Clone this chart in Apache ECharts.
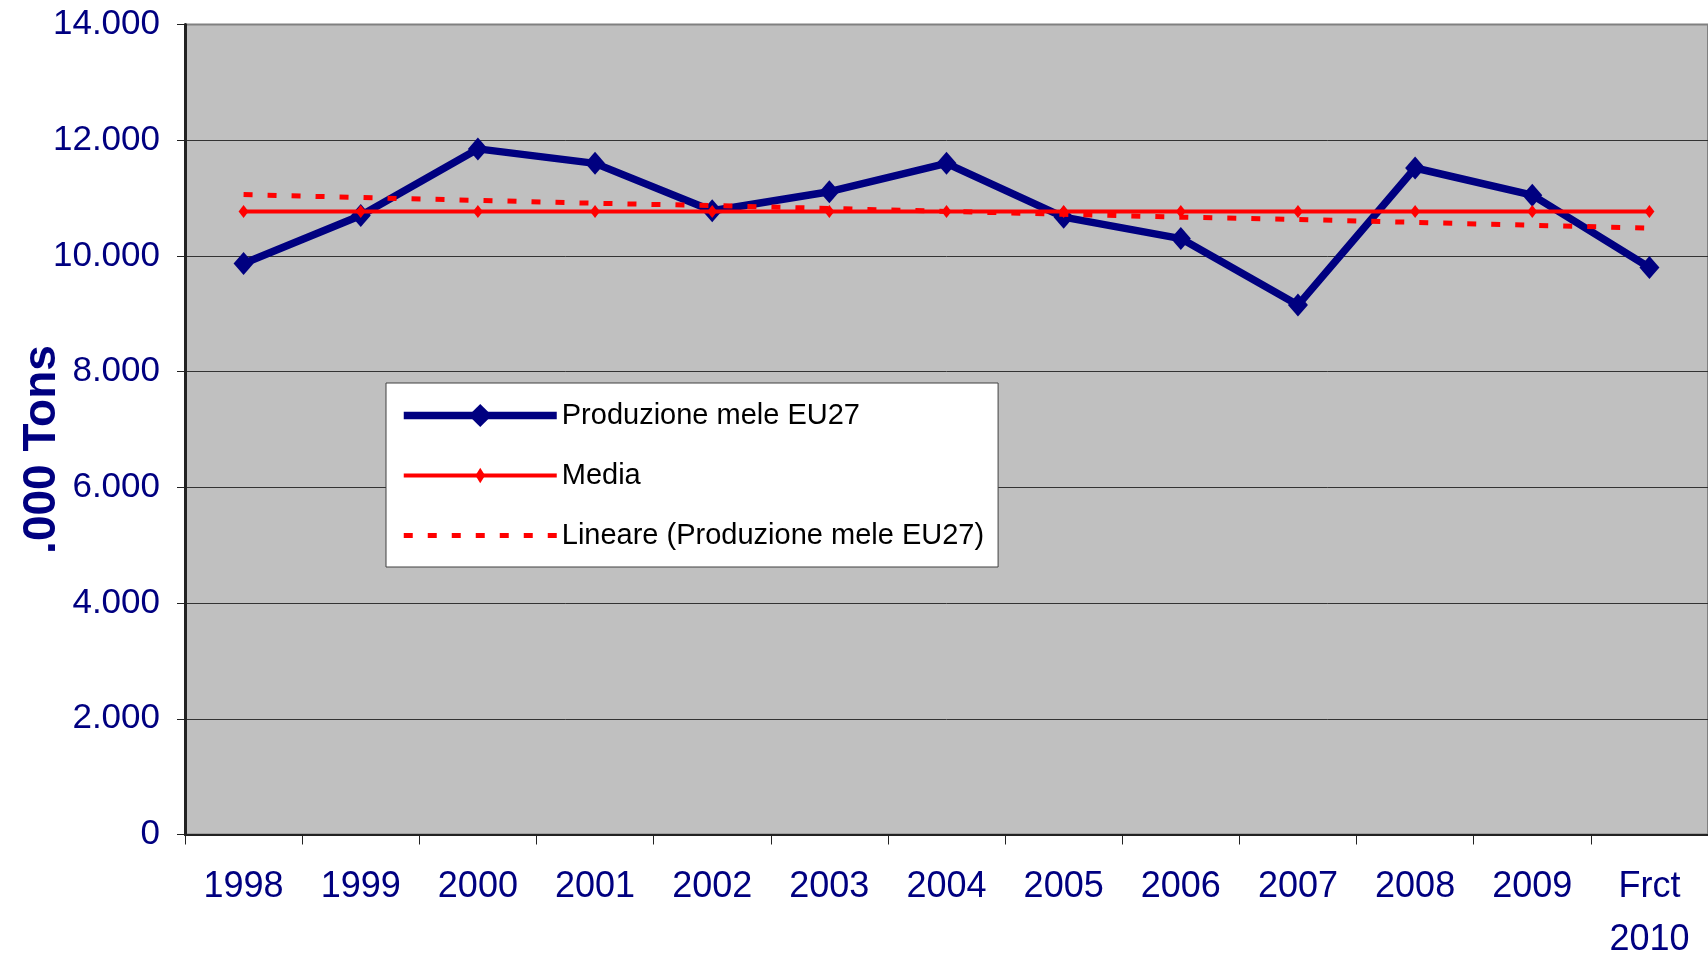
<!DOCTYPE html>
<html>
<head>
<meta charset="utf-8">
<script src="https://cdn.jsdelivr.net/npm/echarts@6/dist/echarts.min.js"></script>
<style>
  html, body { margin: 0; padding: 0; background: #fff; }
  #chart { width: 1708px; height: 956px; }
</style>
</head>
<body>
<div id="chart"></div>
<script>
// anni (ultima categoria = previsione)
const years = ['1998', '1999', '2000', '2001', '2002', '2003', '2004', '2005', '2006', '2007', '2008', '2009', 'Frct\n2010']
// produzione mele EU27, migliaia di tonnellate
const produzione = [9870, 10700, 11850, 11600, 10780, 11110, 11600, 10670, 10300, 9150, 11520, 11050, 9800]
// media
const media = [10770, 10770, 10770, 10770, 10770, 10770, 10770, 10770, 10770, 10770, 10770, 10770, 10770]
// tendenza lineare
const lineare = [11060, 11010, 10960, 10910, 10870, 10820, 10770, 10720, 10670, 10630, 10580, 10530, 10480]
const yTicks = [0, 2000, 4000, 6000, 8000, 10000, 12000, 14000]

const NAVY = '#000080'
const FONT = "'Liberation Sans', Arial, sans-serif"
// diamond with phantom corners, so the legend icon stays small
const smallDiamond = 'path://M0,0M24,24M12,4L17,12L12,20L7,12Z'

const chart = echarts.init(document.getElementById('chart'))

const option = {
  animation: false,
  backgroundColor: '#fff',
  grid: {
    left: 185,
    right: 0,
    top: 24.5,
    bottom: 121.5,
    outerBoundsMode: 'none',
    containLabel: false,
    show: true,
    backgroundColor: '#C0C0C0',
    borderColor: '#808080',
    borderWidth: 2
  },
  legend: {
    orient: 'vertical',
    left: 386,
    top: 383,
    padding: [18, 14, 17, 14],
    itemWidth: 153,
    itemHeight: 29,
    itemGap: 31,
    backgroundColor: '#fff',
    borderColor: '#404040',
    borderWidth: 1,
    borderRadius: 0,
    lineStyle: { width: 'inherit' },
    textStyle: { fontFamily: FONT, fontSize: 29, color: '#000' },
    data: [
      { name: 'Produzione mele EU27' },
      { name: 'Media' },
      { name: 'Lineare (Produzione mele EU27)', itemStyle: { opacity: 0 } }
    ]
  },
  xAxis: {
    type: 'category',
    data: years,
    boundaryGap: true,
    axisLine: { lineStyle: { color: '#222', width: 2 } },
    axisTick: { show: true, interval: 0, length: 10, lineStyle: { color: '#222' } },
    axisLabel: {
      interval: 0,
      margin: 26,
      color: NAVY,
      fontFamily: FONT,
      fontSize: 36,
      lineHeight: 53
    },
    splitLine: { show: false }
  },
  yAxis: {
    type: 'value',
    min: 0,
    max: 14000,
    interval: 2000,
    name: '.000 Tons',
    nameLocation: 'middle',
    nameRotate: 90,
    nameGap: 120,
    nameMoveOverlap: false,
    nameTextStyle: {
      fontFamily: FONT,
      fontSize: 46,
      fontWeight: 'bold',
      color: NAVY,
      padding: [0, 40, 0, 0]
    },
    axisLine: { show: true, lineStyle: { color: '#222', width: 3 } },
    axisTick: { show: true, length: 8, lineStyle: { color: '#222' } },
    axisLabel: {
      margin: 25,
      color: NAVY,
      fontFamily: FONT,
      fontSize: 35,
      formatter: v => (yTicks.indexOf(v) >= 0 && v !== 0) ? (v / 1000) + '.000' : String(v)
    },
    splitLine: { show: true, showMaxLine: false, lineStyle: { color: '#333', width: 1 } }
  },
  series: [
    {
      name: 'Produzione mele EU27',
      type: 'line',
      data: produzione,
      z: 2,
      symbol: 'diamond',
      symbolSize: [20, 23],
      lineStyle: { color: NAVY, width: 7.5 },
      itemStyle: { color: NAVY }
    },
    {
      name: 'Media',
      type: 'line',
      data: media,
      z: 3,
      symbol: smallDiamond,
      symbolSize: [24, 19.5],
      lineStyle: { color: '#FF0000', width: 4 },
      itemStyle: { color: '#FF0000' }
    },
    {
      name: 'Lineare (Produzione mele EU27)',
      type: 'line',
      data: lineare,
      z: 4,
      symbol: 'none',
      lineStyle: { color: '#FF0000', width: 5, type: [9, 15], cap: 'butt' },
      itemStyle: { color: '#FF0000' }
    }
  ]
}

chart.setOption(option)
</script>
</body>
</html>
